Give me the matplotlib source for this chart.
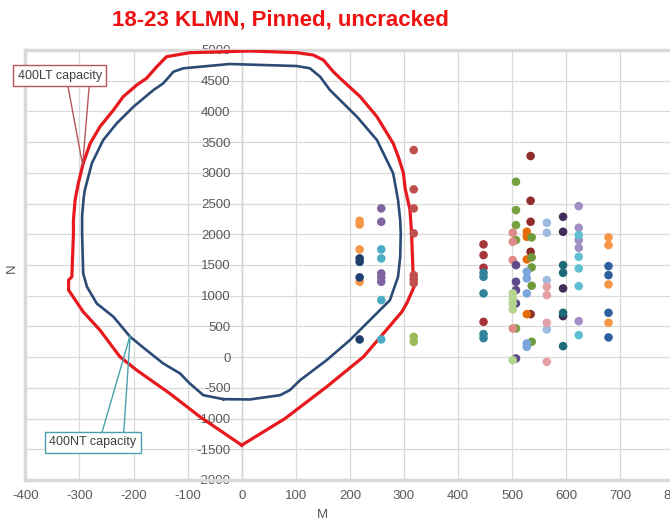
import matplotlib
matplotlib.use("Agg")
import matplotlib.pyplot as plt

plt.rcParams['font.family'] = ['Liberation Sans', 'DejaVu Sans']
plt.rcParams['axes.unicode_minus'] = False

title = "18-23 KLMN, Pinned, uncracked"

# 400LT capacity curve (M, N)
lt_M = [0, 80, 157, 225, 262, 296, 305, 320, 317, 314, 311, 302, 299, 290, 280, 250, 219, 182, 169, 151, 132, 102, 15,
        -96, -139, -157, -176, -194, -219, -237, -262, -280, -293, -302, -308, -311, -311, -314, -320, -320, -293, -262,
        -225, -194, -133, -77, 0]
lt_N = [-1433, -1000, -483, 5, 386, 738, 875, 1173, 1308, 2015, 2400, 2750, 2992, 3250, 3480, 3914, 4240, 4539, 4650,
        4837, 4919, 4956, 4984, 4956, 4891, 4728, 4539, 4430, 4240, 4023, 3751, 3480, 3155, 2829, 2557, 2231, 2015, 1308,
        1254, 1091, 738, 440, 5, -212, -591, -972, -1433]

# 400NT capacity curve (M, N)
nt_M = [-34, -71, -96, -114, -145, -176, -206, -237, -268, -286, -293, -295, -295, -292, -290, -277, -256, -231, -200,
        -163, -145, -126, -108, -22, 102, 126, 145, 163, 213, 250, 280, 289, 293, 294, 293, 289, 274, 243, 200, 157, 108,
        89, 71, 15, -34]
nt_N = [-684, -619, -428, -265, -103, 114, 330, 656, 874, 1145, 1363, 2015, 2300, 2600, 2720, 3155, 3534, 3806, 4077,
        4349, 4457, 4647, 4702, 4772, 4739, 4702, 4565, 4349, 3914, 3534, 2992, 2557, 2231, 2015, 1634, 1308, 928, 656,
        277, -49, -375, -537, -619, -689, -684]

# Load points grouped by colour: (colour, M list, N list)
pts_orange_M = [218, 218, 218, 218, 678, 678, 678, 678]
pts_orange_N = [2220, 2160, 1754, 1227, 1950, 1824, 1184, 559]
pts_navy_M = [218, 218, 218, 218]
pts_navy_N = [1607, 1552, 1298, 288]
pts_purple_M = [258, 258, 258, 258, 258]
pts_purple_N = [2421, 2204, 1363, 1300, 1227]
pts_teal_M = [258, 258, 258, 258]
pts_teal_N = [1754, 1607, 928, 288]
pts_red_M = [318, 318, 318, 318, 318, 318, 318]
pts_red_N = [3371, 2731, 2421, 2015, 1335, 1270, 1205]
pts_green_M = [318, 318]
pts_green_N = [330, 250]
pts_dred450_M = [447, 447, 447, 447]
pts_dred450_N = [1836, 1661, 1455, 575]
pts_teal450_M = [447, 447, 447, 447, 447]
pts_teal450_N = [1373, 1308, 1037, 375, 310]
pts_green505_M = [507, 507, 507, 507, 507]
pts_green505_N = [2855, 2394, 2150, 1906, 467]
pts_pink505_M = [501, 501, 501, 501]
pts_pink505_N = [2025, 1878, 1580, 467]
pts_dpurple505_M = [507, 507, 507, 507, 507]
pts_dpurple505_N = [1498, 1227, 1091, 874, -21]
pts_lgreen505_M = [501, 501, 501, 501, 501]
pts_lgreen505_N = [1037, 950, 874, 777, -49]
pts_dred535_M = [534, 534, 534, 534, 534]
pts_dred535_N = [3274, 2546, 2204, 1715, 700]
pts_orange530_M = [527, 527, 527, 527]
pts_orange530_N = [2041, 1960, 1591, 700]
pts_green535_M = [536, 536, 536, 536, 536]
pts_green535_N = [1950, 1624, 1461, 1162, 250]
pts_lblue530_M = [527, 527, 527, 527, 527]
pts_lblue530_N = [1390, 1282, 1037, 223, 168]
pts_lblue570_M = [564, 564, 564, 564]
pts_lblue570_N = [2188, 2025, 1254, 451]
pts_pink570_M = [564, 564, 564, 564]
pts_pink570_N = [1145, 1010, 559, -77]
pts_dpurple600_M = [594, 594, 594, 594]
pts_dpurple600_N = [2285, 2041, 1119, 668]
pts_dteal600_M = [594, 594, 594, 594]
pts_dteal600_N = [1498, 1373, 722, 179]
pts_lav630_M = [623, 623, 623, 623, 623]
pts_lav630_N = [2459, 2106, 1905, 1780, 586]
pts_teal630_M = [623, 623, 623, 623, 623]
pts_teal630_N = [1987, 1634, 1444, 1156, 358]
pts_blue680_M = [678, 678, 678, 678]
pts_blue680_N = [1482, 1335, 722, 321]

groups = [
    ("#f79646", pts_orange_M, pts_orange_N),
    ("#1f3f6e", pts_navy_M, pts_navy_N),
    ("#8064a2", pts_purple_M, pts_purple_N),
    ("#4bacc6", pts_teal_M, pts_teal_N),
    ("#c0504d", pts_red_M, pts_red_N),
    ("#9bbb59", pts_green_M, pts_green_N),
    ("#a5373a", pts_dred450_M, pts_dred450_N),
    ("#31849b", pts_teal450_M, pts_teal450_N),
    ("#77a040", pts_green505_M, pts_green505_N),
    ("#e08a8a", pts_pink505_M, pts_pink505_N),
    ("#5f4a8b", pts_dpurple505_M, pts_dpurple505_N),
    ("#b5d48e", pts_lgreen505_M, pts_lgreen505_N),
    ("#8e2d2b", pts_dred535_M, pts_dred535_N),
    ("#e46c0a", pts_orange530_M, pts_orange530_N),
    ("#6f9a3a", pts_green535_M, pts_green535_N),
    ("#7aa6dc", pts_lblue530_M, pts_lblue530_N),
    ("#9dbbe0", pts_lblue570_M, pts_lblue570_N),
    ("#e5a0a4", pts_pink570_M, pts_pink570_N),
    ("#3f2f5a", pts_dpurple600_M, pts_dpurple600_N),
    ("#1d6a78", pts_dteal600_M, pts_dteal600_N),
    ("#a08ec4", pts_lav630_M, pts_lav630_N),
    ("#5ec0d2", pts_teal630_M, pts_teal630_N),
    ("#2e5f9f", pts_blue680_M, pts_blue680_N),
]

x_ticks = list(range(-400, 801, 100))
y_ticks = list(range(-2000, 5001, 500))

fig = plt.figure(figsize=(6.7, 5.22), dpi=100)
left_px, right_px, top_px, bot_px = 25.3, 674.5, 50, 480
ax = fig.add_axes([left_px / 670, 1 - bot_px / 522, (right_px - left_px) / 670, (bot_px - top_px) / 522])

ax.set_xlim(-400, 800)
ax.set_ylim(-2000, 5000)
ax.set_xticks(x_ticks)
ax.set_yticks(y_ticks)
ax.set_xticklabels([str(v) for v in x_ticks])
ax.set_yticklabels([str(v) for v in y_ticks])
ax.grid(True, color="#d9d9d9", linewidth=0.9)
ax.set_axisbelow(True)

ax.spines['left'].set_position(('data', 0))
ax.spines['left'].set_color("#d0d0d0")
ax.spines['left'].set_linewidth(1)
ax.spines['right'].set_visible(False)
for s in ['top', 'bottom']:
    ax.spines[s].set_color("#d9d9d9")
    ax.spines[s].set_linewidth(2.5)
ax.axvline(-400, color="#d9d9d9", linewidth=2.5, clip_on=False, zorder=1)

ax.tick_params(axis='both', length=0, labelsize=9.5, labelcolor="#595959")
ax.tick_params(axis='y', pad=8)
ax.tick_params(axis='x', pad=7)

ax.plot(lt_M, lt_N, color="#e8191e", linewidth=2.3, zorder=3)
ax.plot(nt_M, nt_N, color="#2b4a75", linewidth=1.9, zorder=3)

for c, m, n in groups:
    ax.scatter(m, n, s=38, color=c, edgecolors='none', zorder=4)

# callouts
ax.plot([-321, -294, -282], [4402, 3127, 4402], color="#b8545c", linewidth=1, clip_on=False, zorder=5)
ax.text(-336.5, 4579, "400LT capacity", ha='center', va='center', fontsize=9, color="#404040", zorder=6,
        clip_on=False,
        bbox=dict(boxstyle='square,pad=0.35', facecolor='white', edgecolor="#b8545c", linewidth=1))
ax.plot([-258, -206, -218], [-1217, 358, -1217], color="#4aa0ae", linewidth=1, clip_on=False, zorder=5)
ax.text(-275, -1388, "400NT capacity", ha='center', va='center', fontsize=9, color="#404040", zorder=6,
        clip_on=False,
        bbox=dict(boxstyle='square,pad=0.35', facecolor='white', edgecolor="#4aa0ae", linewidth=1))

fig.text(280 / 670, 1 - 20 / 522, title, ha='center', va='center', fontsize=16, fontweight='bold', color="#ee1111")
fig.text(322 / 670, 1 - 515 / 522, "M", ha='center', va='center', fontsize=9.5, color="#595959")
fig.text(12 / 670, 1 - 268 / 522, "N", ha='center', va='center', fontsize=9.5, color="#595959", rotation=90)

fig.savefig("out.png", dpi=100)
